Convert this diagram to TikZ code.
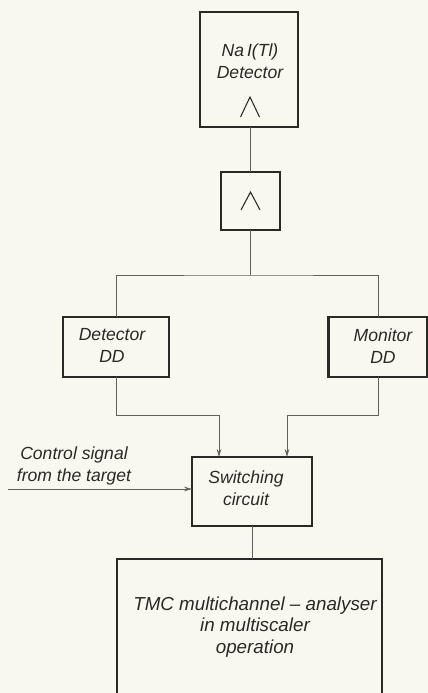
\documentclass[tikz,border=0pt]{standalone}
\usepackage{fontspec}
\setmainfont{Liberation Sans}
\usetikzlibrary{arrows.meta,calc}
\definecolor{paper}{rgb}{0.975,0.972,0.94}
\definecolor{ink}{rgb}{0.16,0.16,0.15}
\definecolor{wire}{rgb}{0.38,0.38,0.36}
\tikzset{
  blockbox/.style={draw=ink, line width=1.3pt, inner sep=0pt, outer sep=0pt},
  label text/.style={text=ink, font=\itshape\fontsize{10}{12.5}\selectfont, align=center, inner sep=0pt},
  wireline/.style={draw=wire, line width=0.45pt},
  feed/.style={wireline, -{Stealth[length=4.5pt,width=2.6pt]}},
}
\begin{document}
\begin{tikzpicture}[x=0.02cm, y=-0.02cm]
  % page and paper tone
  \fill[paper] (0,0) rectangle (428,693);
  \useasboundingbox (0,0) rectangle (428,693);
  \clip (0,0) rectangle (428,693);

  % blocks
  \node[blockbox, minimum width=1.96cm, minimum height=2.3cm] (det) at (249,69.5) {};
  \node[blockbox, minimum width=1.18cm, minimum height=1.16cm] (amp) at (250.5,201) {};
  \node[blockbox, minimum width=2.12cm, minimum height=1.2cm] (ddet) at (116,347) {};
  \node[blockbox, minimum width=1.98cm, minimum height=1.2cm] (mon) at (378,347) {};
  \node[blockbox, minimum width=2.4cm, minimum height=1.38cm] (sw) at (252,491.5) {};
  \node[blockbox, minimum width=5.3cm, minimum height=3.22cm] (tmc) at (249.5,639.5) {};

  % block texts
  \node[label text] (dettxt) at (250,61) {Na\,I(Tl)\\Detector};
  \node[label text] (ddettxt) at (112,345) {Detector\\DD};
  \node[label text] (montxt) at (383,346) {Monitor\\DD};
  \node[label text] (swtxt) at (246,488) {Switching\\circuit};
  \node[label text, font=\itshape\fontsize{10.7}{12.3}\selectfont] (tmctxt) at (255,627)
    {TMC multichannel -- analyser\\in multiscaler\\operation};
  \node[label text] (ctltxt) at (74,466) {Control signal\\from the target};

  % amplifier symbols
  \draw[ink, line width=0.6pt] (240.5,117) -- (250,97) -- (259.5,117);
  \draw[ink, line width=0.6pt] (241,210) -- (250.5,192) -- (260,210);

  % signal paths
  \coordinate (split) at (250.5,275);
  \coordinate (inL) at (219,457);
  \coordinate (inR) at (287,457);
  \coordinate (ctl) at (8,489);
  \draw[wireline] (det.south -| amp.north) -- (amp.north);
  \draw[wireline] (amp.south) -- (split);
  \draw[wireline] (ddet.north) |- (split) -| (mon.north);
  \draw[feed] (ddet.south) |- ($(inL)+(0,-42)$) -- (inL);
  \draw[feed] (mon.south) |- ($(inR)+(0,-42)$) -- (inR);
  \draw[feed] (ctl) -- (ctl -| sw.west);
  \draw[wireline] (sw.south) -- (sw.south |- tmc.north);
\end{tikzpicture}
\end{document}
